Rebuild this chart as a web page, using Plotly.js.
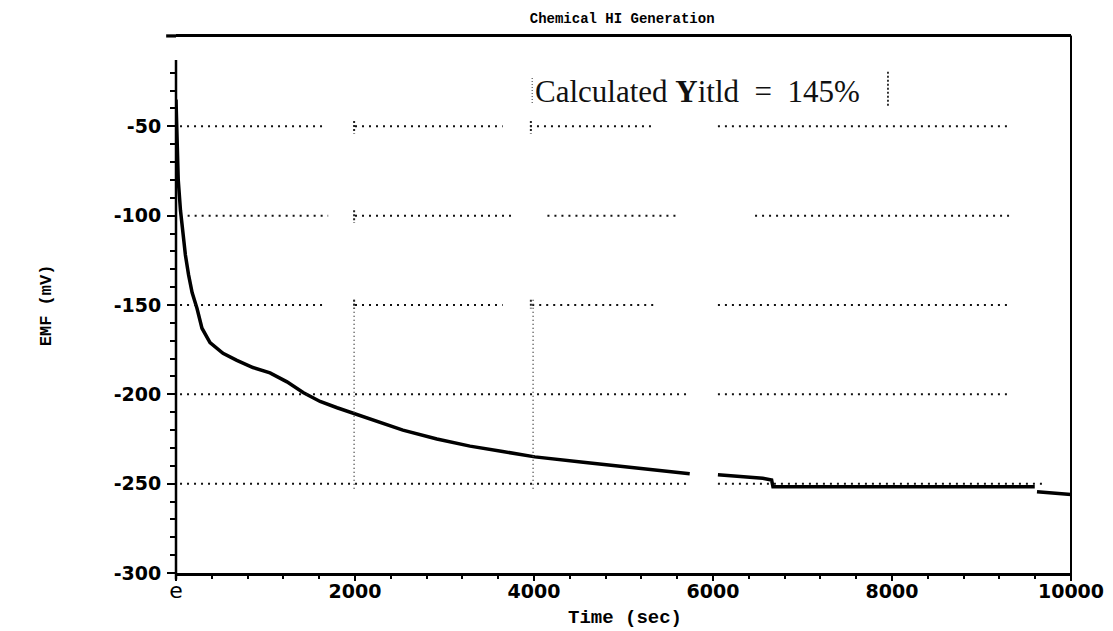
<!DOCTYPE html>
<html>
<head>
<meta charset="utf-8">
<script src="https://cdn.plot.ly/plotly-3.0.1.min.js"></script>
<style>html,body{margin:0;padding:0;background:#fff;}#chart{width:1113px;height:631px;}</style>
</head>
<body>
<div id="chart"></div>
<script>
// ---- data (Time in sec, EMF in mV) ----
const timeSec = [0, 10, 25, 50, 75, 105, 140, 180, 235, 290, 380, 525, 680, 860, 1050, 1240, 1420, 1610, 1800, 2000, 2170, 2535, 2915, 3285, 3650, 4010, 4550, 5105, 5740,
                 null,
                 6055, 6555, 6655, 6670, 9595,
                 null,
                 9620, 10000];
const emfMv = [-35, -60, -80, -97, -110, -122, -133, -143, -152, -163, -171, -177, -181, -185, -188, -193, -199, -204, -207.5, -211, -214, -220, -225, -229, -232, -235, -238, -241, -244.5,
               null,
               -245, -247, -248, -251.7, -251.7,
               null,
               -254.5, -256];

const xTickVals = [0, 2000, 4000, 6000, 8000, 10000];
const xTickText = ['<span style="font-weight:normal;font-family:\'DejaVu Sans\';font-size:22px">e</span>', '2000', '4000', '6000', '8000', '10000'];
const yTickVals = [-300, -250, -200, -150, -100, -50];
const yTickText = ['-300', '-250', '-200', '-150', '-100', '-50'];

const chartTitle = 'Chemical HI Generation';
const xTitle = 'Time (sec)';
const yTitle = 'EMF (mV)';
const noteText = 'Calculated <b>Y</b>itld&nbsp; =&nbsp; 145%';

// dotted grid pieces (as they appear broken in the scan)
const gridLevels = [-50, -100, -150, -200, -250];
const gridSpans = [
  [[45, 1650], [2000, 3650], [3955, 5350], [6055, 9320]],
  [[130, 1700], [2000, 3790], [4150, 5630], [6470, 9320]],
  [[45, 1650], [2000, 3650], [3980, 5380], [6055, 9320]],
  [[45, 5740], [6055, 9320]],
  [[45, 5740], [6055, 9710]]
];
const vGridX = [2000, 4000];
const vGridSpan = [-147, -254];

// minor ticks on the y axis only where the drawn axis line runs (-290 ... -20)
const yMinor = [];
for (let v = -290; v <= -20; v += 10) { if (v % 50 !== 0) yMinor.push(v); }

const shapes = [];
gridLevels.forEach((lvl, i) => {
  gridSpans[i].forEach(s => shapes.push({type: 'line', xref: 'x', yref: 'y', x0: s[0], x1: s[1], y0: lvl, y1: lvl,
    line: {color: '#111', width: 2, dash: '2px,5px'}}));
});
vGridX.forEach(xv => {
  shapes.push({type: 'line', xref: 'x', yref: 'y', x0: xv - 10, x1: xv - 10, y0: vGridSpan[0], y1: vGridSpan[1],
    line: {color: '#444', width: 1.5, dash: '1px,3px'}});
});
[[2000, -47, -54], [2000, -97, -104], [2000, -147, -152], [3975, -47, -54], [3975, -147, -152]].forEach(s => {
  shapes.push({type: 'line', xref: 'x', yref: 'y', x0: s[0] - 10, x1: s[0] - 10, y0: s[1], y1: s[2],
    line: {color: '#222', width: 2, dash: '2px,2px'}});
});
// dotted bars around the yield note
shapes.push({type: 'line', xref: 'x', yref: 'y', x0: 3980, x1: 3980, y0: -23, y1: -37, line: {color: '#555', width: 1.2, dash: '1px,2px'}});
shapes.push({type: 'line', xref: 'x', yref: 'y', x0: 7955, x1: 7955, y0: -19.5, y1: -39.5, line: {color: '#222', width: 1.8, dash: '2px,2px'}});
// right rule and left axis line
shapes.push({type: 'line', xref: 'paper', yref: 'paper', x0: 1, x1: 1, y0: 1.003, y1: -0.008, line: {color: '#000', width: 2}});
shapes.push({type: 'line', xref: 'paper', yref: 'paper', x0: 0, x1: 0, y0: 0.957, y1: -0.012, line: {color: '#000', width: 2.5}});
shapes.push({type: 'rect', xref: 'paper', yref: 'paper', x0: -0.011, x1: 0, y0: 0.999, y1: 1.005, fillcolor: '#000', line: {width: 0}});

const tickFont = {family: 'DejaVu Sans', size: 19, color: '#000', weight: 'bold'};

const trace = {
  x: timeSec, y: emfMv, type: 'scatter', mode: 'lines',
  connectgaps: false,
  line: {color: '#000', width: 3.5},
  hoverinfo: 'skip', showlegend: false
};

const layout = {
  width: 1113, height: 631,
  paper_bgcolor: '#fff', plot_bgcolor: '#fff',
  margin: {l: 176, r: 42, t: 37, b: 58, pad: 0},
  showlegend: false,
  title: {text: chartTitle, x: 0.559, xref: 'container', y: 0.972, yref: 'container', xanchor: 'center', yanchor: 'middle',
    font: {family: 'Liberation Mono', size: 14, color: '#000', weight: 'bold'}},
  xaxis: {
    range: [0, 10000], showgrid: false, zeroline: false,
    showline: true, mirror: true, linecolor: '#000', linewidth: 3,
    tickmode: 'array', tickvals: xTickVals, ticktext: xTickText,
    ticks: 'outside', ticklen: 5, tickwidth: 2, tickcolor: '#000',
    tickfont: tickFont, ticklabelstandoff: -6,
    minor: {dtick: 400, ticks: 'outside', ticklen: 3, tickwidth: 2, tickcolor: '#000', showgrid: false}
  },
  yaxis: {
    range: [-300, 0], showgrid: false, zeroline: false, showline: false,
    tickmode: 'array', tickvals: yTickVals, ticktext: yTickText,
    ticks: 'outside', ticklen: 8, tickwidth: 2, tickcolor: '#000',
    tickfont: tickFont, ticklabelstandoff: 2,
    minor: {tickmode: 'array', tickvals: yMinor, ticks: 'outside', ticklen: 5, tickwidth: 2, tickcolor: '#000', showgrid: false}
  },
  shapes: shapes,
  annotations: [
    {text: noteText, xref: 'x', yref: 'y', x: 5830, y: -30.5, showarrow: false, xanchor: 'center', yanchor: 'middle',
      font: {family: 'Liberation Serif', size: 31, color: '#111'}},
    {text: xTitle, xref: 'paper', yref: 'paper', x: 0.502, y: -0.084, showarrow: false, xanchor: 'center', yanchor: 'middle',
      font: {family: 'Liberation Mono', size: 19, color: '#000', weight: 'bold'}},
    {text: yTitle, xref: 'paper', yref: 'paper', x: -0.145, y: 0.5, showarrow: false, xanchor: 'center', yanchor: 'middle', textangle: -90,
      font: {family: 'Liberation Mono', size: 17, color: '#000', weight: 'bold'}}
  ]
};

Plotly.newPlot('chart', [trace], layout, {staticPlot: true, displayModeBar: false});
</script>
</body>
</html>
